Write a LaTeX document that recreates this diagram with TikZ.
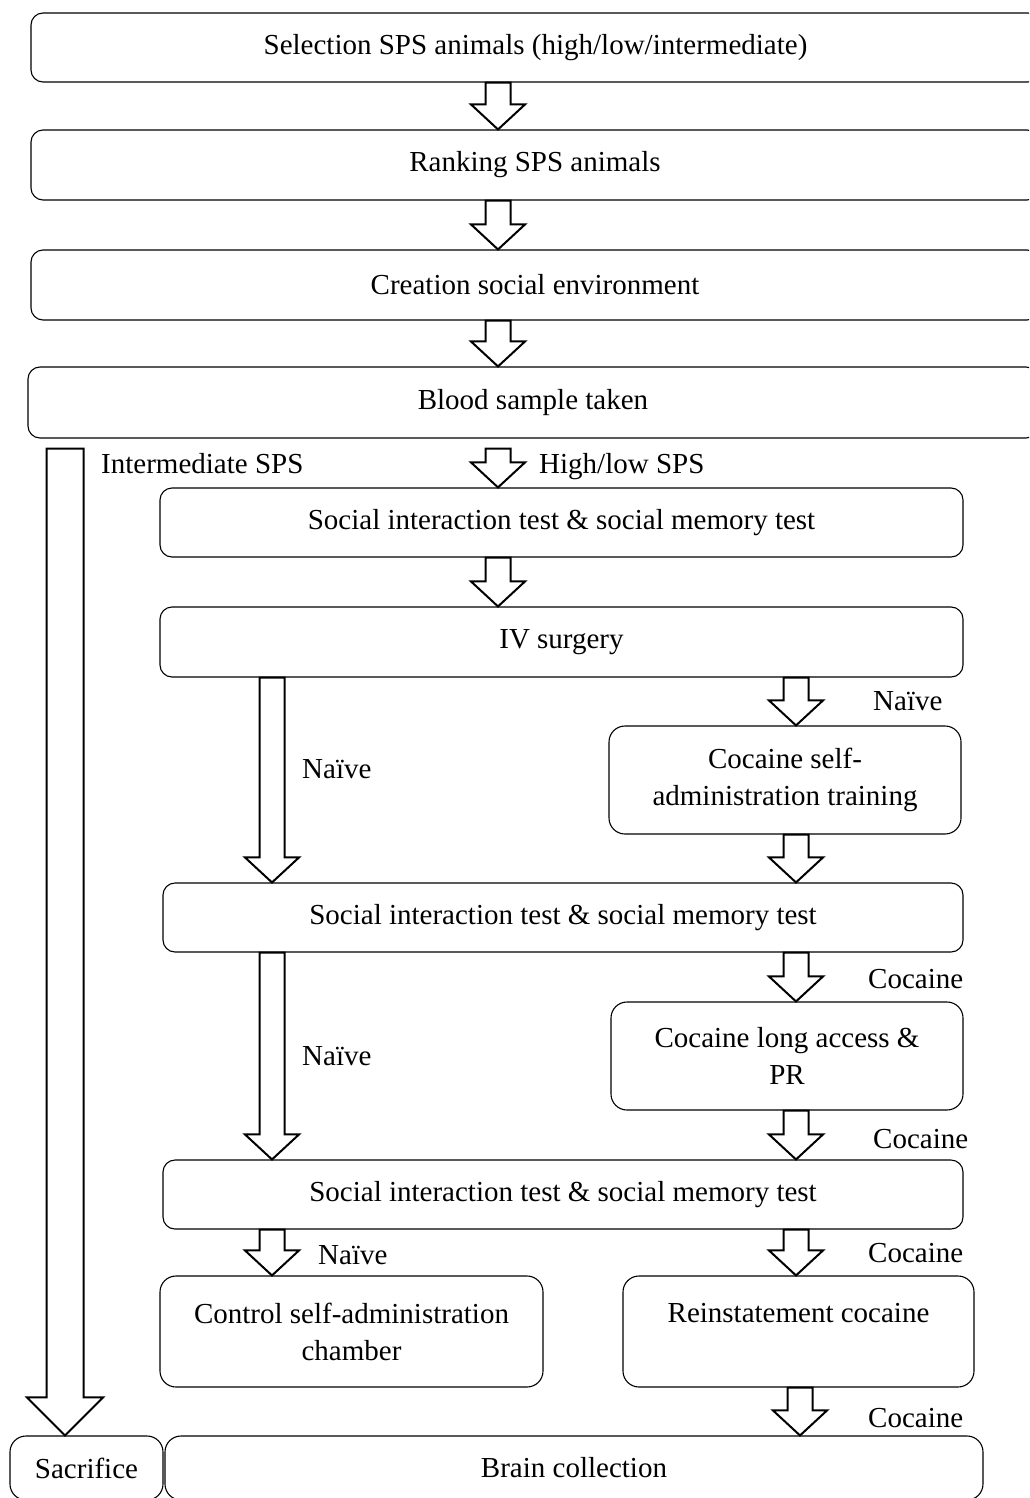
\documentclass[tikz,border=0pt]{standalone}
\usepackage{fontspec}
\setmainfont{Liberation Serif}
\usetikzlibrary{calc}
\tikzset{
 box/.style={draw, line width=1.1pt, rounded corners=12pt, inner sep=0pt, align=center, font=\fontsize{29}{37}\selectfont},
 bigbox/.style={box, rounded corners=16pt},
 lbl/.style={inner sep=0pt, anchor=base west, font=\fontsize{29}{37}\selectfont},
 barr/.style={draw, line width=2pt, fill=white, line join=miter},
}
% from, to, x, shaft half width, head half width, head length
\newcommand\blockarrow[6]{%
 \draw[barr] let \p1=#1, \p2=#2 in
 (#3-#4,\y1) -- (#3+#4,\y1) -- (#3+#4,\y2+#6) -- (#3+#5,\y2+#6) -- (#3,\y2)
 -- (#3-#5,\y2+#6) -- (#3-#4,\y2+#6) -- cycle;}
\begin{document}
\begin{tikzpicture}[x=1pt,y=-1pt]
\useasboundingbox (0,0) rectangle (1029,1498);
\clip (0,0) rectangle (1029,1498);
% boxes
\node[box, minimum width=1009pt, minimum height=69pt] (b1) at (535.5,47.5) {Selection SPS animals (high/low/intermediate)};
\node[box, minimum width=1008pt, minimum height=70pt] (b2) at (535,165) {Ranking SPS animals};
\node[box, minimum width=1008pt, minimum height=70pt] (b3) at (535,285) {Creation social environment};
\node[box, minimum width=1010pt, minimum height=71pt] (b4) at (533,402.5) {Blood sample taken};
\node[box, minimum width=803pt, minimum height=69pt] (b5) at (561.5,522.5) {Social interaction test \& social memory test};
\node[box, minimum width=803pt, minimum height=70pt] (b6) at (561.5,642) {IV surgery};
\node[bigbox, minimum width=352pt, minimum height=108pt] (c1) at (785,780) {Cocaine self-\\administration training};
\node[box, minimum width=800pt, minimum height=69pt] (b7) at (563,917.5) {Social interaction test \& social memory test};
\node[bigbox, minimum width=352pt, minimum height=108pt] (c2) at (787,1056) {Cocaine long access \&\\PR};
\node[box, minimum width=800pt, minimum height=69pt] (b8) at (563,1194.5) {Social interaction test \& social memory test};
\node[bigbox, minimum width=383pt, minimum height=111pt] (ctrl) at (351.5,1331.5) {Control self-administration\\chamber};
\node[bigbox, minimum width=351pt, minimum height=111pt] (rein) at (798.5,1331.5) {Reinstatement cocaine\\\phantom{x}};
\node[bigbox, minimum width=153pt, minimum height=64pt] (sac) at (86.5,1468) {Sacrifice};
\node[bigbox, minimum width=818pt, minimum height=64pt] (brain) at (574,1468) {Brain collection};
% arrows
\blockarrow{(b1.south)}{(b2.north)}{498pt}{12.5pt}{27pt}{25pt}
\blockarrow{(b2.south)}{(b3.north)}{498pt}{12.5pt}{27pt}{25pt}
\blockarrow{(b3.south)}{(b4.north)}{498pt}{12.5pt}{27pt}{25pt}
\blockarrow{([yshift=-10pt]b4.south)}{(b5.north)}{498pt}{12.5pt}{27pt}{25pt}
\blockarrow{(b5.south)}{(b6.north)}{498pt}{12.5pt}{27pt}{25pt}
\blockarrow{(b6.south)}{(b7.north)}{272pt}{12.5pt}{27pt}{25pt}
\blockarrow{(b6.south)}{(c1.north)}{796pt}{12.5pt}{27pt}{25pt}
\blockarrow{(c1.south)}{(b7.north)}{796pt}{12.5pt}{27pt}{25pt}
\blockarrow{(b7.south)}{(b8.north)}{272pt}{12.5pt}{27pt}{25pt}
\blockarrow{(b7.south)}{(c2.north)}{796pt}{12.5pt}{27pt}{25pt}
\blockarrow{(c2.south)}{(b8.north)}{796pt}{12.5pt}{27pt}{25pt}
\blockarrow{(b8.south)}{(ctrl.north)}{272pt}{12.5pt}{27pt}{25pt}
\blockarrow{(b8.south)}{(rein.north)}{796pt}{12.5pt}{27pt}{25pt}
\blockarrow{(rein.south)}{(brain.north)}{800pt}{12.5pt}{27pt}{25pt}
\blockarrow{([yshift=-10pt]b4.south)}{(sac.north)}{65pt}{18.5pt}{38pt}{38pt}
% labels
\node[lbl] (l1) at (101,473) {Intermediate SPS};
\node[lbl] (l2) at (539,473) {High/low SPS};
\node[lbl] (l3) at (873,710) {Naïve};
\node[lbl] (l4) at (302,778) {Naïve};
\node[lbl] (l5) at (868,988) {Cocaine};
\node[lbl] (l6) at (302,1065) {Naïve};
\node[lbl] (l7) at (873,1148) {Cocaine};
\node[lbl] (l8) at (318,1264) {Naïve};
\node[lbl] (l9) at (868,1262) {Cocaine};
\node[lbl] (l10) at (868,1427) {Cocaine};
\end{tikzpicture}
\end{document}
